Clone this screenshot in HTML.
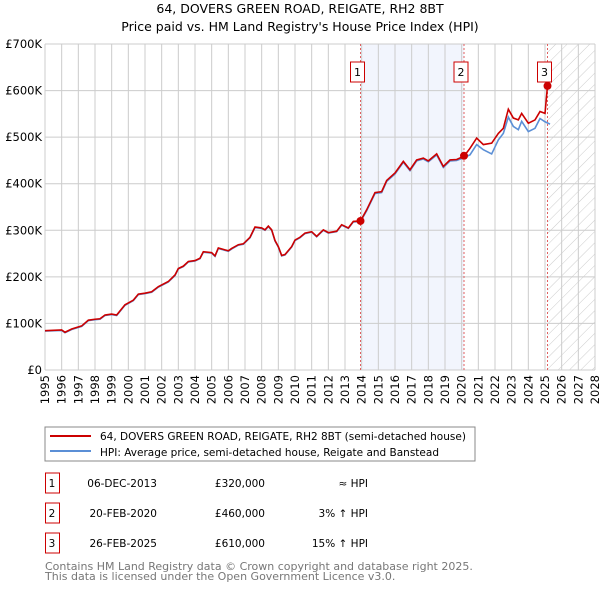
<!DOCTYPE html>
<html><head><meta charset="utf-8"><style>
body{margin:0;background:#fff;font-family:"DejaVu Sans","Liberation Sans",sans-serif;}
svg text{font-family:"DejaVu Sans","Liberation Sans",sans-serif;}
</style></head><body>
<svg id="c" width="600" height="590" xmlns="http://www.w3.org/2000/svg">
<defs><pattern id="hatch" width="8" height="8" patternUnits="userSpaceOnUse" patternTransform="rotate(45)"><line x1="0" y1="0" x2="0" y2="8" stroke="#ccc" stroke-width="1"/></pattern></defs>
<text x="300" y="13" text-anchor="middle" font-size="12.5">64, DOVERS GREEN ROAD, REIGATE, RH2 8BT</text>
<text x="300" y="31" text-anchor="middle" font-size="12.5">Price paid vs. HM Land Registry's House Price Index (HPI)</text>
<g id="grid"></g><g id="marks"></g>
<rect x="45" y="427" width="430" height="34" fill="#fff" stroke="#888"/>
<line x1="50" y1="436" x2="91" y2="436" stroke="#cc0000" stroke-width="2"/>
<text x="100" y="440" font-size="10.5">64, DOVERS GREEN ROAD, REIGATE, RH2 8BT (semi-detached house)</text>
<line x1="50" y1="451" x2="91" y2="451" stroke="#5b8fd6" stroke-width="2"/>
<text x="100" y="456" font-size="10.5">HPI: Average price, semi-detached house, Reigate and Banstead</text>
<g id="table" font-size="10.5"></g>
<text x="45" y="570" font-size="11" fill="#777">Contains HM Land Registry data © Crown copyright and database right 2025.</text>
<text x="45" y="580" font-size="11" fill="#777">This data is licensed under the Open Government Licence v3.0.</text>
</svg>
<script>
const priceYears=[1995.0,1996.0,1996.2,1996.6,1997.2,1997.6,1998.0,1998.3,1998.6,1999.0,1999.3,1999.8,2000.3,2000.6,2001.0,2001.4,2001.8,2002.4,2002.8,2003.0,2003.3,2003.6,2004.0,2004.3,2004.5,2005.0,2005.2,2005.4,2005.8,2006.0,2006.2,2006.6,2006.9,2007.3,2007.6,2008.0,2008.2,2008.4,2008.6,2008.8,2009.0,2009.2,2009.4,2009.8,2010.0,2010.3,2010.6,2011.0,2011.3,2011.7,2012.0,2012.5,2012.8,2013.2,2013.5,2013.93,2014.3,2014.8,2015.2,2015.5,2016.0,2016.5,2016.9,2017.3,2017.7,2018.0,2018.5,2018.9,2019.3,2019.7,2020.14,2020.5,2020.9,2021.3,2021.8,2022.2,2022.5,2022.8,2023.1,2023.4,2023.6,2024.0,2024.4,2024.7,2025.0,2025.15];
const priceValues=[84.5,86,81,88,94.6,107,109,110,118,120,118,140,150,163,165,168,179,190,204,218,223,233,235,240,254,252,245,262,258,256,261,269,271,285,307,305,301,309,301,278,265,246,248,265,279,285,294,297,287,301,295,298,312,305,319,320,344,381,383,407,423,448,430,451,455,449,464,437,451,452,459,476,498,484,487,508,519,560,541,537,551,530,537,555,551,610];
const hpiYears=[1995.0,1996.0,1996.2,1996.6,1997.2,1997.6,1998.0,1998.3,1998.6,1999.0,1999.3,1999.8,2000.3,2000.6,2001.0,2001.4,2001.8,2002.4,2002.8,2003.0,2003.3,2003.6,2004.0,2004.3,2004.5,2005.0,2005.2,2005.4,2005.8,2006.0,2006.2,2006.6,2006.9,2007.3,2007.6,2008.0,2008.2,2008.4,2008.6,2008.8,2009.0,2009.2,2009.4,2009.8,2010.0,2010.3,2010.6,2011.0,2011.3,2011.7,2012.0,2012.5,2012.8,2013.2,2013.5,2013.93,2014.3,2014.8,2015.2,2015.5,2016.0,2016.5,2016.9,2017.3,2017.7,2018.0,2018.5,2018.9,2019.3,2019.7,2020.14,2020.5,2020.9,2021.3,2021.8,2022.2,2022.5,2022.8,2023.1,2023.4,2023.6,2024.0,2024.4,2024.7,2025.0,2025.3];
const hpiValues=[83.5,85,80,87,93.6,106,108,109,117,119,117,139,149,162,164,167,178,189,203,217,222,232,234,239,253,251,244,261,257,255,260,268,270,284,306,304,300,308,300,277,264,245,247,264,278,284,293,296,286,300,294,297,311,304,318,319,342,379,381,405,421,446,428,449,453,447,462,435,449,450,456,462,484,473,464,494,508,543,523,516,534,512,519,540,533,528];
const saleYears=[2013.93,2020.14,2025.15];
const saleValues=[320,460,610];
const saleLabels=["1","2","3"];
const saleDates=["06-DEC-2013","20-FEB-2020","26-FEB-2025"];
const salePrices=["£320,000","£460,000","£610,000"];
const saleRel=["≈ HPI","3% ↑ HPI","15% ↑ HPI"];
const yTicks=[0,100,200,300,400,500,600,700];
const yTickLabels=["£0","£100K","£200K","£300K","£400K","£500K","£600K","£700K"];
const xTicks=[1995,1996,1997,1998,1999,2000,2001,2002,2003,2004,2005,2006,2007,2008,2009,2010,2011,2012,2013,2014,2015,2016,2017,2018,2019,2020,2021,2022,2023,2024,2025,2026,2027,2028];
const X0=45,X1=595,Y0=370,Y1=44;
const xs=y=>X0+(y-1995)/(2028-1995)*(X1-X0);
const ys=v=>Y0-v/700*(Y0-Y1);
const NS="http://www.w3.org/2000/svg";
function mk(tag,attrs,parent){const e=document.createElementNS(NS,tag);for(const k in attrs)e.setAttribute(k,attrs[k]);parent.appendChild(e);return e;}
const g=document.getElementById('grid'),m=document.getElementById('marks'),t=document.getElementById('table');
let r=mk('rect',{x:xs(saleYears[0]),y:Y1,width:xs(saleYears[1])-xs(saleYears[0]),height:Y0-Y1,fill:'#f2f5fd'},g);


r=mk('rect',{x:xs(saleYears[2]),y:Y1,width:X1-xs(saleYears[2]),height:Y0-Y1,fill:'url(#hatch)'},g);


yTicks.forEach((v,i)=>{
 const l=mk('line',{x1:X0,x2:X1,y1:ys(v),y2:ys(v),stroke:'#ccc','stroke-width':1},g);
 
 
 const tx=mk('text',{x:X0-3,y:ys(v)+4,'text-anchor':'end','font-size':11.5},g);
 tx.textContent=yTickLabels[i];
 
 
});
xTicks.forEach(y=>{
 const l=mk('line',{x1:xs(y),x2:xs(y),y1:Y1,y2:Y0,stroke:'#ccc','stroke-width':1},g);
 
 
 const tx=mk('text',{x:0,y:0,'text-anchor':'end','font-size':11.5,transform:`translate(${xs(y)+4},${Y0+5}) rotate(-90)`},g);
 tx.textContent=y;
 
 
});
saleYears.forEach((y,i)=>{
 const l=mk('line',{x1:xs(y),x2:xs(y),y1:Y1,y2:Y0,stroke:'#e06060','stroke-width':1,'stroke-dasharray':'2,2'},g);
 
 
});
let p=mk('polyline',{points:hpiYears.map((y,i)=>xs(y)+','+ys(hpiValues[i])).join(' '),fill:'none',stroke:'#5b8fd6','stroke-width':1.6},m);


p=mk('polyline',{points:priceYears.map((y,i)=>xs(y)+','+ys(priceValues[i])).join(' '),fill:'none',stroke:'#cc0000','stroke-width':1.6},m);


saleYears.forEach((y,i)=>{
 const c=mk('circle',{cx:xs(y),cy:ys(saleValues[i]),r:4,fill:'#cc0000'},m);
 
 
 const b=mk('rect',{x:xs(y)-10,y:62,width:14,height:20,fill:'#fff',stroke:'#cc0000','stroke-width':1},m);
 
 
 const tx=mk('text',{x:xs(y)-3,y:76,'text-anchor':'middle','font-size':11},m);
 tx.textContent=saleLabels[i];
 
 
 const ry=483+i*30;
 const tb=mk('rect',{x:45.5,y:ry-10,width:14,height:20,fill:'#fff',stroke:'#cc0000'},t);
 
 
 const cells=[[52,saleLabels[i],'middle'],[157,saleDates[i],'end'],[265,salePrices[i],'end'],[368,saleRel[i],'end']];
 cells.forEach(cd=>{
  const ct=mk('text',{x:cd[0],y:ry+4,'text-anchor':cd[2]},t);
  ct.textContent=cd[1];
  
  
 });
});
</script>
</body></html>
